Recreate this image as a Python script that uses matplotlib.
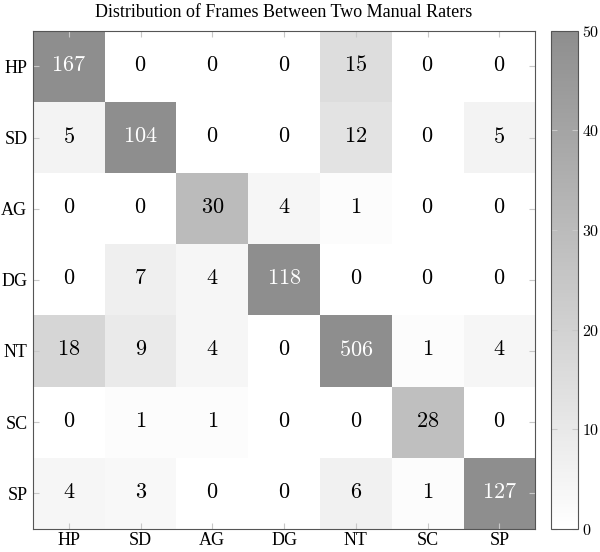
import numpy as np
import matplotlib
matplotlib.use('Agg')
import matplotlib.pyplot as plt
from matplotlib.colors import LinearSegmentedColormap

labels = ['HP', 'SD', 'AG', 'DG', 'NT', 'SC', 'SP']
counts = np.array([
    [167, 0, 0, 0, 15, 0, 0],
    [5, 104, 0, 0, 12, 0, 5],
    [0, 0, 30, 4, 1, 0, 0],
    [0, 7, 4, 118, 0, 0, 0],
    [18, 9, 4, 0, 506, 1, 4],
    [0, 1, 1, 0, 0, 28, 0],
    [4, 3, 0, 0, 6, 1, 127],
])
cbar_ticks = [0, 10, 20, 30, 40, 50]

plt.rcParams['mathtext.fontset'] = 'cm'
plt.rcParams['font.family'] = 'Liberation Serif'

cmap = LinearSegmentedColormap.from_list('wg', ['#ffffff', '#8e8e8e'])

fig = plt.figure(figsize=(6, 5.52), dpi=100)
ax = fig.add_axes([0.055, 0.042, 0.837, 0.902])
cax = fig.add_axes([0.918, 0.042, 0.045, 0.902])

im = ax.imshow(counts, cmap=cmap, vmin=0, vmax=50, aspect='auto')
n = len(labels)
for i in range(n):
    for j in range(n):
        v = counts[i, j]
        ax.text(j, i, '$%d$' % v, ha='center', va='center', fontsize=16,
                color='white' if v > 50 else 'black')

ax.set_xticks(range(n))
ax.set_yticks(range(n))
ax.set_xticklabels(labels, fontsize=13)
ax.set_yticklabels(labels, fontsize=13)
ax.tick_params(direction='in', length=4, color='#c8c8c8', top=True, right=True)
ax.tick_params(axis='x', pad=2)
ax.tick_params(axis='y', pad=4)
for s in ax.spines.values():
    s.set_color('#555555')
    s.set_linewidth(0.8)
ax.set_title('Distribution of Frames Between Two Manual Raters', fontsize=13,
             pad=10)

cb = fig.colorbar(im, cax=cax, ticks=cbar_ticks)
cb.ax.set_yticklabels(['$%d$' % t for t in cbar_ticks], fontsize=11.5)
cb.ax.tick_params(direction='in', length=4, color='#c8c8c8', left=True,
                  right=True, pad=3)
cb.outline.set_edgecolor('#555555')
cb.outline.set_linewidth(0.8)

fig.savefig('out.png', dpi=100)
